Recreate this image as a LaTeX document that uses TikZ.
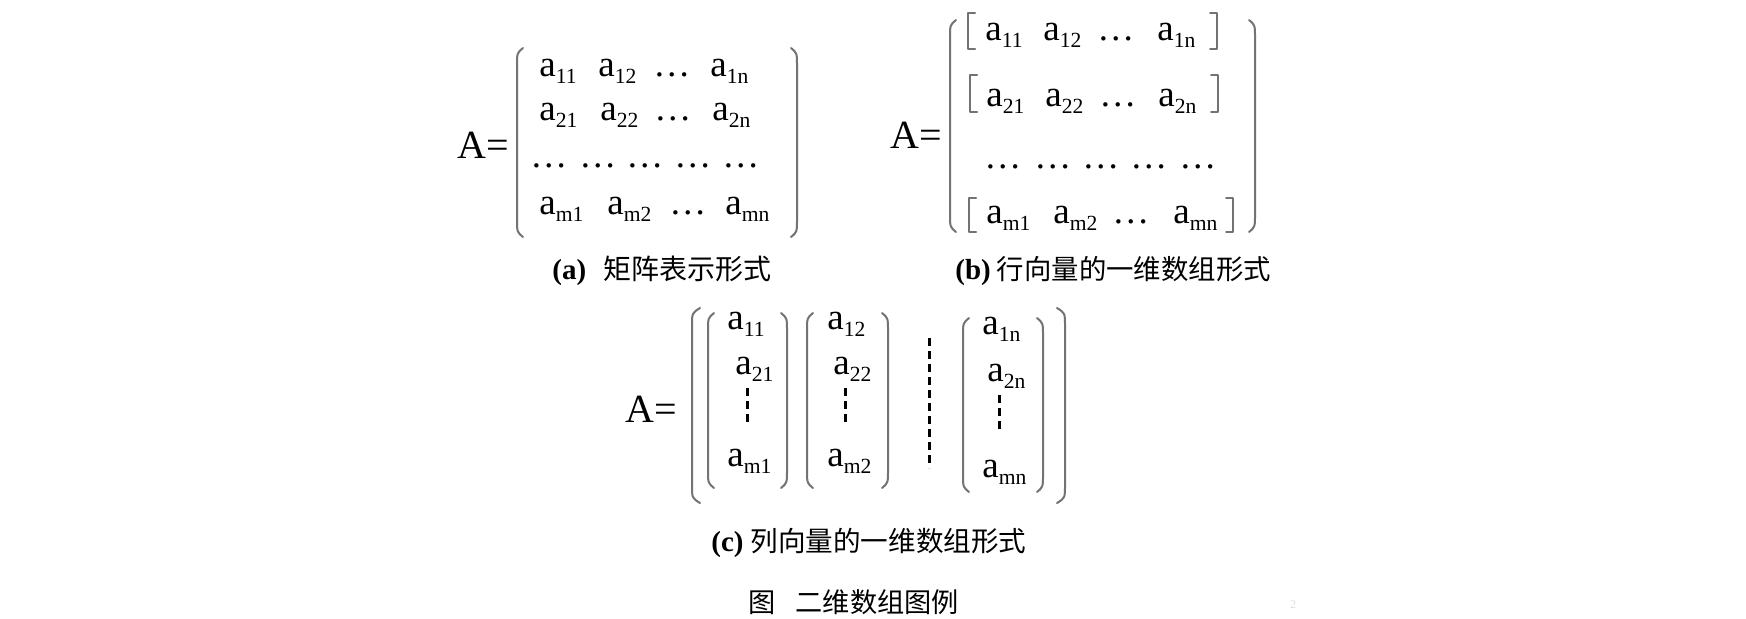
\documentclass[tikz,border=0pt]{standalone}
\usepackage{fontspec}
\setmainfont{Liberation Serif}
\newfontfamily\cjk{Noto Sans CJK SC}
\newcommand\ent[1]{a\raisebox{-3.5pt}{\fontsize{10.8}{11}\selectfont #1}}
\newcommand\myLpar[4]{\draw[parenline] (#1+#4,#2) .. controls (#1,#2+5) .. (#1,#2+18) -- (#1,#3-18) .. controls (#1,#3-5) .. (#1+#4,#3);}
\newcommand\myRpar[4]{\draw[parenline] (#1-#4,#2) .. controls (#1,#2+5) .. (#1,#2+18) -- (#1,#3-18) .. controls (#1,#3-5) .. (#1-#4,#3);}
\newcommand\myLbrk[3]{\draw[parenline] (#1+7,#2) -- (#1,#2) -- (#1,#3) -- (#1+7,#3);}
\newcommand\myRbrk[3]{\draw[parenline] (#1-7,#2) -- (#1,#2) -- (#1,#3) -- (#1-7,#3);}
\tikzset{
  parenline/.style={draw=black!55, line width=1pt, line cap=round, line join=round},
  ent/.style={inner sep=0pt, anchor=base west, font=\fontsize{18.5}{20}\selectfont},
  aeq/.style={inner sep=0pt, anchor=base west, font=\fontsize{20}{22}\selectfont},
  captxt/.style={inner sep=0pt, anchor=west, font=\fontsize{14.5}{16}\selectfont},
  dashline/.style={draw=black, line width=1.5pt, dash pattern=on 4pt off 2.5pt},
}
\begin{document}
\begin{tikzpicture}[x=0.5pt,y=-0.5pt]
\fill[white] (0,0) rectangle (1746,618);
\path[use as bounding box] (0,0) rectangle (1746,618);

% ---------- (a) ----------
\node[aeq] (aA) at (457,158) {A=};
\myLpar{517}{48}{237}{6}
\myRpar{797}{48}{237}{6}
\node[ent] (aa11) at (539,76) {\ent{11}};
\node[ent] (aa12) at (598,76) {\ent{12}};
\node[ent] (aa1d) at (653,76) {…};
\node[ent] (aa1n) at (710,76) {\ent{1n}};
\node[ent] (aa21) at (539,120) {\ent{21}};
\node[ent] (aa22) at (600,120) {\ent{22}};
\node[ent] (aa2d) at (654,120) {…};
\node[ent] (aa2n) at (712,120) {\ent{2n}};
\node[ent] (aad1) at (530,167) {…};
\node[ent] (aad2) at (579,167) {…};
\node[ent] (aad3) at (626,167) {…};
\node[ent] (aad4) at (674,167) {…};
\node[ent] (aad5) at (722,167) {…};
\node[ent] (aam1) at (539,214) {\ent{m1}};
\node[ent] (aam2) at (607,214) {\ent{m2}};
\node[ent] (aamd) at (669,214) {…};
\node[ent] (aamn) at (725,214) {\ent{mn}};
\node[captxt] (capa) at (552,271) {{\bfseries (a)}\hspace{8.5pt}{\cjk\fontsize{14}{16}\selectfont 矩阵表示形式}};

% ---------- (b) ----------
\node[aeq] (bA) at (890,148) {A=};
\myLpar{950}{20}{232}{6}
\myRpar{1255}{20}{232}{6}
\myLbrk{968}{13}{49}
\myRbrk{1217}{13}{49}
\myLbrk{970}{75}{112}
\myRbrk{1218}{75}{112}
\myLbrk{969}{198}{232}
\myRbrk{1233}{198}{232}
\node[ent] (ba11) at (985,40) {\ent{11}};
\node[ent] (ba12) at (1043,40) {\ent{12}};
\node[ent] (ba1d) at (1097,40) {…};
\node[ent] (ba1n) at (1157,40) {\ent{1n}};
\node[ent] (ba21) at (986,106) {\ent{21}};
\node[ent] (ba22) at (1045,106) {\ent{22}};
\node[ent] (ba2d) at (1099,106) {…};
\node[ent] (ba2n) at (1158,106) {\ent{2n}};
\node[ent] (bad1) at (984,168) {…};
\node[ent] (bad2) at (1034,168) {…};
\node[ent] (bad3) at (1082,168) {…};
\node[ent] (bad4) at (1130,168) {…};
\node[ent] (bad5) at (1179,168) {…};
\node[ent] (bam1) at (986,223) {\ent{m1}};
\node[ent] (bam2) at (1053,223) {\ent{m2}};
\node[ent] (bamd) at (1112,223) {…};
\node[ent] (bamn) at (1173,223) {\ent{mn}};
\node[captxt] (capb) at (955,271) {{\bfseries (b)}\hspace{3pt}{\cjk\fontsize{13.7}{16}\selectfont 行向量的一维数组形式}};

% ---------- (c) ----------
\node[aeq] (cA) at (625,422) {A=};
\myLpar{692}{308}{503}{8}
\myRpar{1065}{308}{503}{8}
\myLpar{708}{313}{488}{6}
\myRpar{787}{313}{488}{6}
\myLpar{807}{313}{488}{6}
\myRpar{888}{313}{488}{6}
\myLpar{963}{318}{492}{6}
\myRpar{1043}{318}{492}{6}
\node[ent] (ca11) at (727,329) {\ent{11}};
\node[ent] (ca21) at (735,374) {\ent{21}};
\node[ent] (cam1) at (727,466) {\ent{m1}};
\node[ent] (ca12) at (827,329) {\ent{12}};
\node[ent] (ca22) at (833,374) {\ent{22}};
\node[ent] (cam2) at (827,466) {\ent{m2}};
\node[ent] (ca1n) at (982,334) {\ent{1n}};
\node[ent] (ca2n) at (987,381) {\ent{2n}};
\node[ent] (camn) at (982,477) {\ent{mn}};
\coordinate (d1a) at (747,388);
\coordinate (d1b) at (747,425);
\coordinate (d2a) at (845,388);
\coordinate (d2b) at (845,425);
\coordinate (dna) at (999,395);
\coordinate (dnb) at (999,432);
\coordinate (dba) at (929,338);
\coordinate (dbb) at (929,468);
\draw[dashline] (d1a) -- (d1b);
\draw[dashline] (d2a) -- (d2b);
\draw[dashline] (dna) -- (dnb);
\draw[dashline] (dba) -- (dbb);
\node[captxt] (capc) at (711,543) {{\bfseries (c)}\hspace{3.5pt}{\cjk\fontsize{13.8}{16}\selectfont 列向量的一维数组形式}};

% ---------- title ----------
\node[captxt, font=\cjk\fontsize{13.6}{15}\selectfont] (title) at (748,602) {图\hspace{10pt}二维数组图例};
\node[inner sep=0pt, text=black!12, font=\fontsize{6}{7}\selectfont] (pg) at (1293,605) {2};
\end{tikzpicture}
\end{document}
